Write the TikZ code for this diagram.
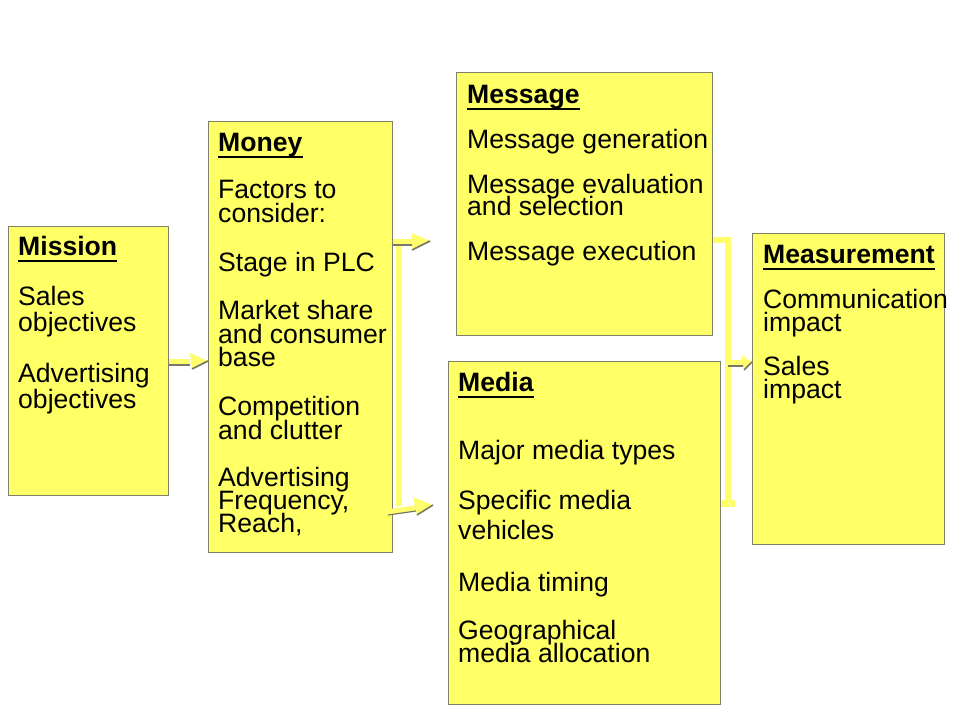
\documentclass[tikz,border=0pt]{standalone}
\usepackage{fontspec}
\setmainfont{Liberation Sans}
\definecolor{boxfill}{RGB}{255,255,102}
\definecolor{boxline}{RGB}{128,128,110}
\definecolor{arrowfill}{RGB}{255,255,110}
\definecolor{shadowc}{RGB}{120,120,100}
\tikzset{
 box/.style={draw=boxline, fill=boxfill, line width=0.8pt, anchor=north west, inner sep=0pt},
 txt/.style={anchor=base west, inner sep=0pt, text height=15pt, text depth=2pt, font=\fontsize{26.6}{28}\selectfont},
 ttl/.style={anchor=base west, inner sep=0pt, text height=15pt, text depth=2pt, font=\fontsize{26.6}{28}\selectfont\bfseries},
 uline/.style={line width=2.6pt, black},
 bar/.style={draw=arrowfill, line width=5.5pt},
 barshade/.style={draw=shadowc, line width=1.2pt},
 headfill/.style={fill=arrowfill},
 headedge/.style={draw=shadowc, line width=1.6pt},
}
\begin{document}
\begin{tikzpicture}[x=1pt,y=-1pt]
\useasboundingbox (0,0) rectangle (960,720);
\fill[white] (0,0) rectangle (960,720);

% boxes
\node[box, minimum width=160pt, minimum height=269pt] (mission) at (8,226) {};
\node[box, minimum width=184pt, minimum height=431pt] (money) at (208,121) {};
\node[box, minimum width=256pt, minimum height=263pt] (message) at (456,72) {};
\node[box, minimum width=272pt, minimum height=343pt] (media) at (448,361) {};
\node[box, minimum width=192pt, minimum height=311pt] (measure) at (752,233) {};

% Mission
\node[ttl] (t1) at (18,255) {Mission};
\draw[uline] ([yshift=-6pt]t1.base west) -- ([yshift=-6pt]t1.base east);
\node[txt] (a1) at (18,305) {Sales};
\node[txt] (a2) at (18,331) {objectives};
\node[txt] (a3) at (18,382) {Advertising};
\node[txt] (a4) at (18,408) {objectives};

% Money
\node[ttl] (t2) at (218,151) {Money};
\draw[uline] ([yshift=-6pt]t2.base west) -- ([yshift=-6pt]t2.base east);
\node[txt] (b1) at (218,198) {Factors to};
\node[txt] (b2) at (218,222) {consider:};
\node[txt] (b3) at (218,271) {Stage in PLC};
\node[txt] (b4) at (218,319) {Market share};
\node[txt] (b5) at (218,343) {and consumer};
\node[txt] (b6) at (218,366) {base};
\node[txt] (b7) at (218,415) {Competition};
\node[txt] (b8) at (218,439) {and clutter};
\node[txt] (b9) at (218,486) {Advertising};
\node[txt] (b10) at (218,509) {Frequency,};
\node[txt] (b11) at (218,532) {Reach,};

% Message
\node[ttl] (t3) at (467,103) {Message};
\draw[uline] ([yshift=-6pt]t3.base west) -- ([yshift=-6pt]t3.base east);
\node[txt] (c1) at (467,148) {Message generation};
\node[txt] (c2) at (467,193) {Message evaluation};
\node[txt] (c3) at (467,215) {and selection};
\node[txt] (c4) at (467,260) {Message execution};

% Media
\node[ttl] (t4) at (458,391) {Media};
\draw[uline] ([yshift=-6pt]t4.base west) -- ([yshift=-6pt]t4.base east);
\node[txt] (d1) at (458,459) {Major media types};
\node[txt] (d2) at (458,509) {Specific media};
\node[txt] (d3) at (458,539) {vehicles};
\node[txt] (d4) at (458,591) {Media timing};
\node[txt] (d5) at (458,639) {Geographical};
\node[txt] (d6) at (458,662) {media allocation};

% Measurement
\node[ttl] (t5) at (763,263) {Measurement};
\draw[uline] ([yshift=-6pt]t5.base west) -- ([yshift=-6pt]t5.base east);
\node[txt] (e1) at (763,308) {Communication};
\node[txt] (e2) at (763,331) {impact};
\node[txt] (e3) at (763,375) {Sales};
\node[txt] (e4) at (763,398) {impact};

% connector coordinates
\coordinate (m1s) at (mission.east |- 0,362);
\coordinate (m1e) at (190,362);
\coordinate (m1tip) at (money.west |- 0,361);
\coordinate (lbtop) at (399,242);
\coordinate (lbbot) at (399,506);
\coordinate (ltops) at (money.east |- 0,242);
\coordinate (ltope) at (413,242);
\coordinate (ltip) at (430,241);
\coordinate (lbots) at (388,512);
\coordinate (lbote) at (416,508);
\coordinate (lbtip) at (433,505);
\coordinate (rtops) at (message.east |- 0,240);
\coordinate (rtope) at (731,240);
\coordinate (rbtop) at (728,238);
\coordinate (rbbot) at (728,507);
\coordinate (rfoots) at (media.east |- 0,503);
\coordinate (rfoote) at (735,503);
\coordinate (rmids) at (728,363);
\coordinate (rmide) at (745,363);
\coordinate (rmtip) at (measure.west |- 0,362);

% Mission -> Money
\draw[bar] (m1s) -- (m1e);
\draw[barshade] ([yshift=-3pt]m1s) -- ([yshift=-3pt]m1e);
\fill[headfill] (190,353) -- (m1tip) -- (192,369) -- cycle;
\draw[headedge] (192,369) -- (m1tip);

% left bracket
\draw[bar] (lbtop) -- (lbbot);
\draw[bar] (ltops) -- (ltope);
\draw[barshade] ([yshift=-3pt]ltops) -- ([yshift=-3pt]ltope);
\fill[headfill] (412,233) -- (ltip) -- (412,250) -- cycle;
\draw[headedge] (412,250) -- (ltip);
\draw[bar] (lbots) -- (lbote);
\draw[barshade] ([yshift=-3pt]lbots) -- ([yshift=-3pt]lbote);
\fill[headfill] (413,497) -- (lbtip) -- (417,515) -- cycle;
\draw[headedge] (417,515) -- (lbtip);

% right bracket
\draw[bar] (rtops) -- (rtope);
\draw[bar] (rbtop) -- (rbbot);
\draw[bar, line width=7pt] (rfoots) -- (rfoote);
\draw[bar] (rmids) -- (rmide);
\draw[barshade] ([yshift=-3pt]rmids) -- ([yshift=-3pt]rmide);
\fill[headfill] (741,355) -- (rmtip) -- (744,370) -- cycle;
\draw[headedge] (744,370) -- (rmtip);
\end{tikzpicture}
\end{document}
